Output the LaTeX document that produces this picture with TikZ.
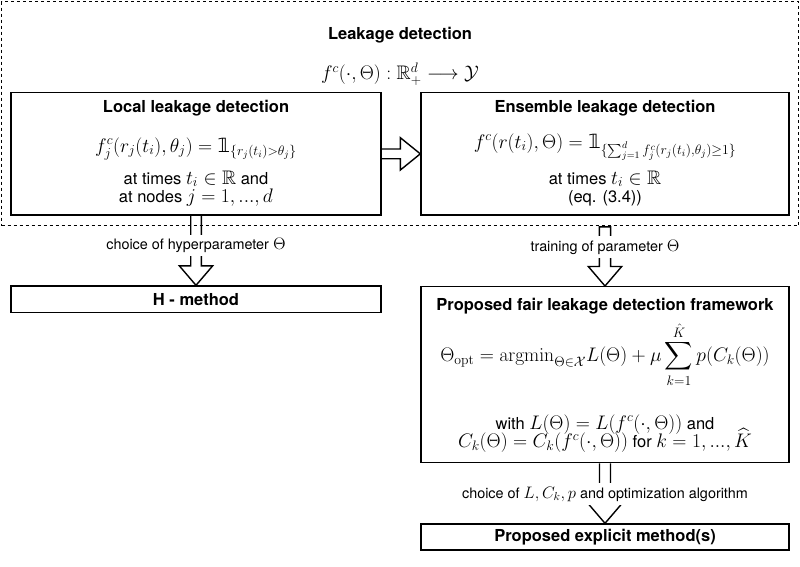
\RequirePackage{fix-cm}
\documentclass[tikz,border=0pt]{standalone}
\usepackage{amsmath,amssymb}
\usepackage{anyfontsize}
\usepackage[no-math]{fontspec}
\setmainfont{TeX Gyre Heros}
\newfontfamily\dvs{DejaVu Sans}
\newcommand{\indic}{\mathord{\text{\dvs 𝟙}}}
\newcommand{\M}[1]{{\fontsize{19.6}{22}\selectfont$#1$}}
\newcommand{\ML}[1]{{\fontsize{16.6}{19}\selectfont$#1$}}
\usetikzlibrary{calc}
\tikzset{
  outerbox/.style={draw, dashed, dash pattern=on 3pt off 3pt, line width=0.8pt, minimum width=797pt, minimum height=224pt, inner sep=0pt},
  box/.style={draw, line width=1.4pt, inner sep=0pt},
  txt/.style={font=\fontsize{16.5}{19.8}\selectfont, inner sep=0pt, anchor=base},
  ttl/.style={font=\fontsize{16.5}{19.8}\selectfont\bfseries, inner sep=0pt, anchor=base},
  lbl/.style={font=\fontsize{14.4}{17}\selectfont, fill=white, inner xsep=1pt, inner ysep=3.5pt, anchor=base},
  blockarrow/.style={draw, line width=1.4pt, line join=miter}
}
\begin{document}
\begin{tikzpicture}[x=1pt,y=-1pt]
\useasboundingbox (0,0) rectangle (800,566);
% outer dashed region
\node[outerbox] (ld) at (400,113.6) {};
\node[ttl] (ldt) at (400,39) {Leakage detection};
\node[txt] (ldf) at (400,79.5) {\M{f^c(\cdot,\Theta) : \mathbb{R}^d_+ \longrightarrow \mathcal{Y}}};
% boxes
\node[box, minimum width=370pt, minimum height=122.3pt] (local) at (196,153.85) {};
\node[box, minimum width=368pt, minimum height=122.3pt] (ens) at (605,153.85) {};
\node[box, minimum width=370pt, minimum height=26.7pt] (hm) at (196,299.35) {};
\node[box, minimum width=368pt, minimum height=176pt] (fair) at (605,374.7) {};
\node[box, minimum width=368pt, minimum height=26pt] (expl) at (605,537) {};
% local texts
\node[ttl] (lt) at (196,112) {Local leakage detection};
\node[txt] (lf) at (196,152) {\M{f_j^c(r_j(t_i),\theta_j) = \indic_{\{r_j(t_i)>\theta_j\}}}};
\node[txt] (la) at (196,184) {at times \M{t_i\in\mathbb{R}} and};
\node[txt] (lb) at (196,202) {at nodes \M{j = 1, ..., d}};
% ensemble texts
\node[ttl] (et) at (605,112) {Ensemble leakage detection};
\node[txt] (ef) at (605,148) {\M{f^c(r(t_i),\Theta) = \indic_{\{\sum_{j=1}^d f_j^c(r_j(t_i),\theta_j)\geq 1\}}}};
\node[txt] (ea) at (605,184) {at times \M{t_i\in\mathbb{R}}};
\node[txt] (eb) at (605,202) {(eq. (3.4))};
% H method
\node[ttl, anchor=center] (hmt) at (hm.center) {H - method};
% fair framework
\node[ttl] (ft) at (605,310) {Proposed fair leakage detection framework};
\node[txt] (ff) at (605,361.5) {\M{\Theta_{\mathrm{opt}} = \mathrm{argmin}_{\Theta\in\mathcal{X}} L(\Theta) + \mu \displaystyle\sum_{k=1}^{\hat{K}} p(C_k(\Theta))}};
\node[txt] (fa) at (605,429) {with \M{L(\Theta) = L(f^c(\cdot,\Theta))} and};
\node[txt] (fb) at (605,447.5) {\M{C_k(\Theta) = C_k(f^c(\cdot,\Theta))} for \M{k = 1, ..., \widehat{K}}};
% explicit
\node[ttl, anchor=center] (ext) at (expl.center) {Proposed explicit method(s)};
% horizontal block arrow
\draw[blockarrow] ($(local.east)+(0,-4.9)$) -- ($(ens.west)+(-20,-4.9)$) -- ($(ens.west)+(-20,-16.2)$) -- (ens.west) -- ($(ens.west)+(-20,16.2)$) -- ($(ens.west)+(-20,4.9)$) -- ($(local.east)+(0,4.9)$);
% left down arrow
\draw[blockarrow] ($(local.south)+(-5.3,0)$) -- ($(hm.north)+(-5.3,-19.5)$) -- ($(hm.north)+(-16.7,-19.5)$) -- (hm.north) -- ($(hm.north)+(16.7,-19.5)$) -- ($(hm.north)+(5.3,-19.5)$) -- ($(local.south)+(5.3,0)$);
% right down arrow (from outer region)
\coordinate (rs) at (ld.south -| fair.north);
\draw[blockarrow] ($(rs)+(-5.6,0.8)$) -- ($(fair.north)+(-5.6,-19.5)$) -- ($(fair.north)+(-16.7,-19.5)$) -- (fair.north) -- ($(fair.north)+(16.7,-19.5)$) -- ($(fair.north)+(5.6,-19.5)$) -- ($(rs)+(5.6,0.8)$) -- cycle;
% bottom down arrow
\draw[blockarrow] ($(fair.south)+(-5.5,0)$) -- ($(expl.north)+(-5.5,-19.5)$) -- ($(expl.north)+(-16.7,-19.5)$) -- (expl.north) -- ($(expl.north)+(16.7,-19.5)$) -- ($(expl.north)+(5.5,-19.5)$) -- ($(fair.south)+(5.5,0)$);
% labels
\node[lbl] (l1) at (196,249.5) {choice of hyperparameter \ML{\Theta}};
\node[lbl] (l2) at (605,251) {training of parameter \ML{\Theta}};
\node[lbl] (l3) at (605,498) {choice of \ML{L, C_k, p} and optimization algorithm};
\end{tikzpicture}
\end{document}
